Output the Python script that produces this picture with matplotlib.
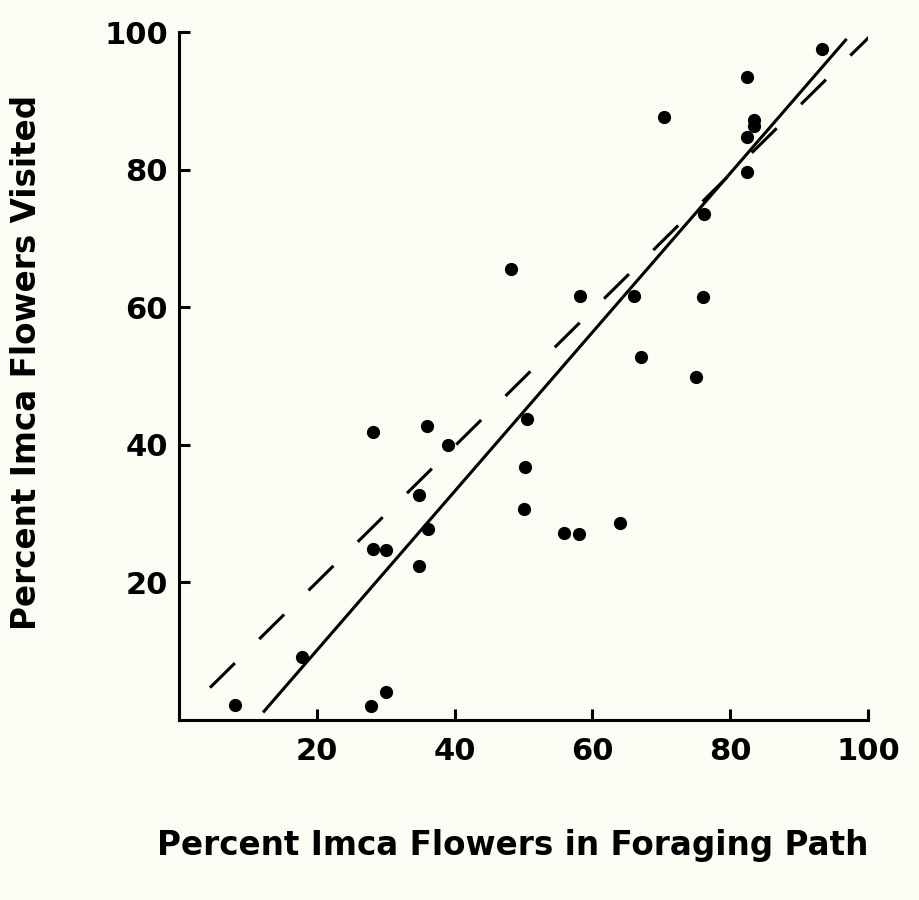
import numpy as np
import matplotlib.pyplot as plt

# percent Imca flowers in foraging path (x) vs percent visited (y)
path_pct = [8.1, 17.9, 28.2, 36.0, 39.0, 50.5, 34.9, 36.2, 28.1, 30.1, 34.9,
            27.9, 30.0, 50.2, 50.0, 55.9, 58.0, 64.0, 48.2, 58.2, 66.0, 76.1,
            67.1, 75.0, 93.3, 82.5, 70.4, 83.5, 83.5, 82.4, 82.5, 76.2]
visited_pct = [2.2, 9.2, 41.8, 42.7, 39.9, 43.7, 32.7, 27.7, 24.8, 24.7, 22.4,
               2.1, 4.1, 36.8, 30.7, 27.2, 27.0, 28.7, 65.5, 61.7, 61.7, 61.5,
               52.8, 49.8, 97.5, 93.4, 87.6, 87.2, 86.3, 84.7, 79.6, 73.5]

# regression line (solid) and equality line (dashed)
fit_x = [12.2, 96.9]
fit_y = [1.1, 99.0]
equal_x = [4.5, 100.7]
equal_y = [4.7, 99.8]

ticks = [20, 40, 60, 80, 100]

bg = '#fcfcf4'
fig = plt.figure(figsize=(9.19, 9.0), dpi=100, facecolor=bg)
ax = fig.add_axes([179/919, 1-720/900, 689/919, 688/900], facecolor=bg)

ax.plot(fit_x, fit_y, color='black', lw=2.2, solid_capstyle='butt')
ax.plot(equal_x, equal_y, color='black', lw=2.2, linestyle=(0, (11.45, 11.2)),
        dash_capstyle='butt')
ax.plot(path_pct, visited_pct, 'o', color='black', ms=8.5)

ax.set_xlim(0, 100)
ax.set_ylim(0, 100)
ax.set_xticks(ticks)
ax.set_yticks(ticks)
ax.set_xticklabels([str(t) for t in ticks])
ax.set_yticklabels([str(t) for t in ticks])

for s in ['top', 'right']:
    ax.spines[s].set_visible(False)
for s in ['left', 'bottom']:
    ax.spines[s].set_linewidth(2.2)

ax.tick_params(direction='in', length=8, width=2.2, labelsize=22, pad=12)
ax.tick_params(axis='y', pad=8)
for lbl in ax.get_xticklabels() + ax.get_yticklabels():
    lbl.set_fontweight('bold')

fig.text(513/919, 1-845/900, 'Percent Imca Flowers in Foraging Path', ha='center',
         va='center', fontsize=23.5, fontweight='bold')
fig.text(27/919, 1-362/900, 'Percent Imca Flowers Visited', ha='center',
         va='center', rotation=90, fontsize=23.5, fontweight='bold')

fig.savefig('out.png', dpi=100, facecolor=bg)
